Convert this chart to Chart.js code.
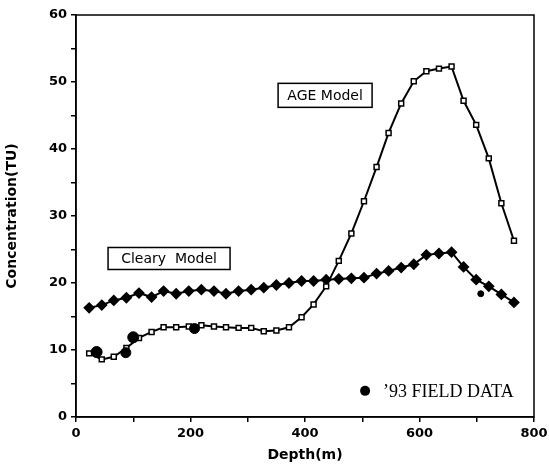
<!DOCTYPE html>
<html>
<head>
<meta charset="utf-8">
<script src="https://cdn.jsdelivr.net/npm/chart.js@4/dist/chart.umd.min.js"></script>
<style>
    html, body { margin: 0; padding: 0; background: #fff; }
    #wrap { width: 549px; height: 468px; }
</style>
</head>
<body>
<div id="wrap"><canvas id="chart" width="549" height="468"></canvas></div>
<script>
// depth (m) of model nodes
var depths = [23, 45, 66, 88, 110, 132, 153, 175, 197, 219, 241, 262, 284, 306, 328, 350, 372, 394,
    415, 437, 459, 481, 503, 525, 546, 568, 590, 612, 634, 656, 677, 699, 721, 743, 765]
// AGE model (open squares)
var ageModel = [9.5, 8.6, 9.0, 10.3, 11.8, 12.7, 13.4, 13.4, 13.5, 13.7, 13.5, 13.4, 13.3, 13.3, 12.8, 12.9, 13.4, 14.9,
    16.8, 19.5, 23.3, 27.4, 32.2, 37.3, 42.4, 46.8, 50.1, 51.6, 52.0, 52.3, 47.2, 43.6, 38.6, 31.9, 26.3]
// Cleary model (filled diamonds)
var clearyModel = [16.3, 16.7, 17.4, 17.8, 18.5, 17.9, 18.8, 18.4, 18.8, 19.0, 18.8, 18.4, 18.8, 19.0, 19.3, 19.7, 20.0, 20.3,
    20.3, 20.5, 20.6, 20.7, 20.8, 21.4, 21.8, 22.3, 22.8, 24.2, 24.4, 24.6, 22.4, 20.5, 19.5, 18.3, 17.1]
// '93 field data
var fieldDepths = [36, 87, 100, 207, 707]
var fieldValues = [9.7, 9.6, 11.9, 13.2, 18.4]

var xTicks = [0, 200, 400, 600, 800]
var yTicks = [0, 10, 20, 30, 40, 50, 60]

var toXY = (xs, ys) => xs.map((x, i) => ({x: x, y: ys[i]}))

var TICK_FONT = {family: 'DejaVu Sans', size: 13, weight: 'bold'}
var TITLE_FONT = {family: 'DejaVu Sans', size: 14, weight: 'bold'}

// frame, label boxes and field-data key
var decor = {
    id: 'decor',
    afterDraw: (chart) => {
        var ctx = chart.ctx
        var a = chart.chartArea
        var sx = chart.scales.x
        var sy = chart.scales.y
        ctx.save()
        ctx.strokeStyle = '#000'
        ctx.lineWidth = 1.5
        ctx.strokeRect(a.left, a.top, a.right - a.left, a.bottom - a.top)

        var box = (text, dx, dy, w, h) => {
            var x = sx.getPixelForValue(dx)
            var y = sy.getPixelForValue(dy)
            ctx.fillStyle = '#fff'
            ctx.fillRect(x, y, w, h)
            ctx.lineWidth = 1.5
            ctx.strokeRect(x, y, w, h)
            ctx.fillStyle = '#000'
            ctx.font = '14px "DejaVu Sans"'
            ctx.textAlign = 'center'
            ctx.textBaseline = 'middle'
            ctx.fillText(text, x + w / 2, y + h / 2 + 1)
        }
        box('AGE Model', 353, 49.8, 94, 24)
        box('Cleary  Model', 56, 25.3, 122, 22)

        // field data key
        var kx = sx.getPixelForValue(505)
        var ky = sy.getPixelForValue(3.9)
        ctx.beginPath()
        ctx.arc(kx, ky, 5, 0, Math.PI * 2)
        ctx.fill()
        ctx.font = '18px "Liberation Serif"'
        ctx.textAlign = 'left'
        ctx.fillText('\u201993 FIELD DATA', kx + 18, ky + 1)
        ctx.restore()
    }
}

var chart = new Chart(document.getElementById('chart'), {
    type: 'line',
    data: {
        datasets: [{
            label: 'AGE Model',
            data: toXY(depths, ageModel),
            borderColor: '#000',
            borderWidth: 2,
            pointStyle: 'rect',
            pointRadius: 3.5,
            pointBackgroundColor: '#fff',
            pointBorderColor: '#000',
            pointBorderWidth: 1.5,
            tension: 0,
            order: 2
        }, {
            label: 'Cleary Model',
            data: toXY(depths, clearyModel),
            borderColor: '#000',
            borderWidth: 2,
            pointStyle: 'rectRot',
            pointRadius: 4.5,
            pointBackgroundColor: '#000',
            pointBorderColor: '#000',
            tension: 0,
            order: 3
        }, {
            label: "'93 FIELD DATA",
            data: toXY(fieldDepths, fieldValues),
            showLine: false,
            pointStyle: 'circle',
            pointRadius: [5.5, 5, 5.5, 5, 3],
            pointBackgroundColor: '#000',
            pointBorderColor: '#000',
            order: 1
        }]
    },
    options: {
        responsive: false,
        animation: false,
        layout: {padding: {top: 15, right: 15, left: 0, bottom: 0}},
        plugins: {
            legend: {display: false},
            tooltip: {enabled: false}
        },
        scales: {
            x: {
                type: 'linear',
                min: 0,
                max: 800,
                afterBuildTicks: (s) => {
                    s.ticks = [0, 100, 200, 300, 400, 500, 600, 700, 800].map(v => ({value: v}))
                },
                afterFit: (s) => {
                    s.height = 51
                    s.paddingLeft = 0
                    s.paddingRight = 0
                },
                ticks: {
                    color: '#000',
                    font: TICK_FONT,
                    padding: 4,
                    autoSkip: false,
                    maxRotation: 0,
                    callback: (v) => xTicks.includes(v) ? v : ''
                },
                grid: {drawOnChartArea: false, tickLength: 5, color: '#000', lineWidth: 1.5},
                border: {color: '#000', width: 1.5},
                title: {display: true, text: 'Depth(m)', color: '#000', font: TITLE_FONT, padding: {top: 0}}
            },
            y: {
                min: 0,
                max: 60,
                afterBuildTicks: (s) => {
                    var t = []
                    for (var v = 0; v <= 60; v += 5) t.push({value: v})
                    s.ticks = t
                },
                afterFit: (s) => {
                    s.width = 76
                    s.paddingTop = 0
                    s.paddingBottom = 0
                },
                ticks: {
                    color: '#000',
                    font: TICK_FONT,
                    padding: 4,
                    autoSkip: false,
                    callback: (v) => yTicks.includes(v) ? v : ''
                },
                grid: {drawOnChartArea: false, tickLength: 5, color: '#000', lineWidth: 1.5},
                border: {color: '#000', width: 1.5},
                title: {display: true, text: 'Concentration(TU)', color: '#000', font: TITLE_FONT, padding: {bottom: 4}}
            }
        }
    },
    plugins: [decor]
})
</script>
</body>
</html>
